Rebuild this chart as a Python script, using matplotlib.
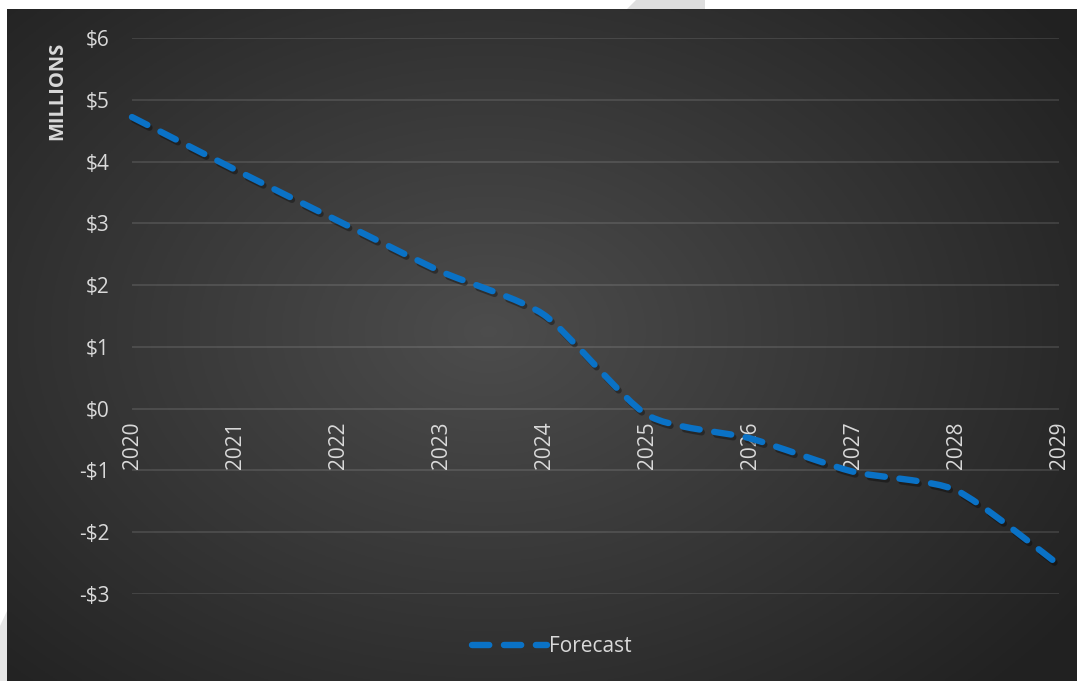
import numpy as np
import matplotlib
matplotlib.use("Agg")
import matplotlib.pyplot as plt
import matplotlib.patheffects as pe
from matplotlib.path import Path
from matplotlib.patches import PathPatch, Polygon
from matplotlib.lines import Line2D

# yearly forecast, in millions of dollars
years = [2020, 2021, 2022, 2023, 2024, 2025, 2026, 2027, 2028, 2029]
forecast = [4.72, 3.87, 3.04, 2.22, 1.52, -0.10, -0.48, -1.02, -1.32, -2.53]
y_ticks = [-3, -2, -1, 0, 1, 2, 3, 4, 5, 6]

plt.rcParams['font.family'] = ['Open Sans', 'DejaVu Sans']
line_col = '#0a72c6'
text_col = '#d9d9d9'

fig = plt.figure(figsize=(10.77, 6.81), dpi=100)
fig.patch.set_facecolor('white')

# radial grey backdrop behind the chart
bg = fig.add_axes([7/1077, 0, 1070/1077, 672/681])
bg.set_axis_off()
gx, gy = np.meshgrid(np.linspace(0, 1, 400), np.linspace(0, 1, 260))
r = np.sqrt(((gx - 0.45) / 0.75) ** 2 + ((gy - 0.52) / 0.85) ** 2)
shade = np.clip(0.30 - 0.19 * r, 0.13, 0.30)
bg.imshow(np.dstack([shade] * 3), extent=[0, 1, 0, 1], aspect='auto', origin='lower')
bg.set_xlim(0, 1)
bg.set_ylim(0, 1)

# light slide stripes poking out at the edges
fig.patches.append(Polygon([[627/1077, 672/681], [705/1077, 672/681], [705/1077, 1], [636/1077, 1]],
                           closed=True, transform=fig.transFigure, fc='#dedede', ec='none'))
fig.patches.append(Polygon([[0, 0], [7/1077, 0], [7/1077, 70/681], [0, 55/681]],
                           closed=True, transform=fig.transFigure, fc='#e6e6e6', ec='none'))

ax = fig.add_axes([132/1077, 87/681, 927/1077, 556/681])
ax.patch.set_alpha(0)
ax.set_xlim(years[0], years[-1])
ax.set_ylim(-3, 6)
for s in ax.spines.values():
    s.set_visible(False)
ax.set_yticks(y_ticks)
ax.set_yticklabels(['-$%d' % -v if v < 0 else '$%d' % v for v in y_ticks])
ax.yaxis.grid(True, color='white', alpha=0.12, lw=1.3)
ax.set_axisbelow(True)
ax.tick_params(axis='y', length=0, pad=16, labelsize=15, labelcolor=text_col)

# year labels hang under the zero line
ax.spines['bottom'].set_position(('data', 0))
ax.set_xticks(years)
ax.set_xticklabels([str(y) for y in years], rotation=90, va='top')
ax.tick_params(axis='x', length=0, pad=9, labelsize=15, labelcolor=text_col)

ax.text(-0.081, 0.993, 'MILLIONS', transform=ax.transAxes, rotation=90, ha='center', va='top',
        fontsize=14.5, fontweight='bold', color=text_col)

# smoothed line: cubic Bezier segments through the points
px = np.array(years, dtype=float)
py = np.array(forecast, dtype=float)
n = len(px)
k = 1 / 9
verts = [(px[0], py[0])]
codes = [Path.MOVETO]
for i in range(n - 1):
    i0 = max(i - 1, 0)
    i3 = min(i + 2, n - 1)
    c1 = (px[i] + (px[i + 1] - px[i0]) * k, py[i] + (py[i + 1] - py[i0]) * k)
    c2 = (px[i + 1] - (px[i3] - px[i]) * k, py[i + 1] - (py[i3] - py[i]) * k)
    verts += [c1, c2, (px[i + 1], py[i + 1])]
    codes += [Path.CURVE4] * 3
curve = PathPatch(Path(verts, codes), fill=False, ec=line_col, lw=4.6,
                  linestyle=(0, (2.7, 2.3)), capstyle='round', joinstyle='round', clip_on=False)
curve.set_path_effects([pe.SimpleLineShadow(offset=(1.5, -2), shadow_color='black', alpha=0.35),
                        pe.Normal()])
ax.add_patch(curve)

handle = Line2D([], [], color=line_col, lw=4.6, linestyle=(0, (2.7, 2.3)), dash_capstyle='round')
leg = ax.legend([handle], ['Forecast'], loc='center', bbox_to_anchor=(552/1077, 34/681),
                bbox_transform=fig.transFigure, frameon=False, fontsize=15,
                handlelength=3.6, handletextpad=0.1, labelcolor=text_col)

fig.savefig('out.png', dpi=100, facecolor=fig.get_facecolor())
